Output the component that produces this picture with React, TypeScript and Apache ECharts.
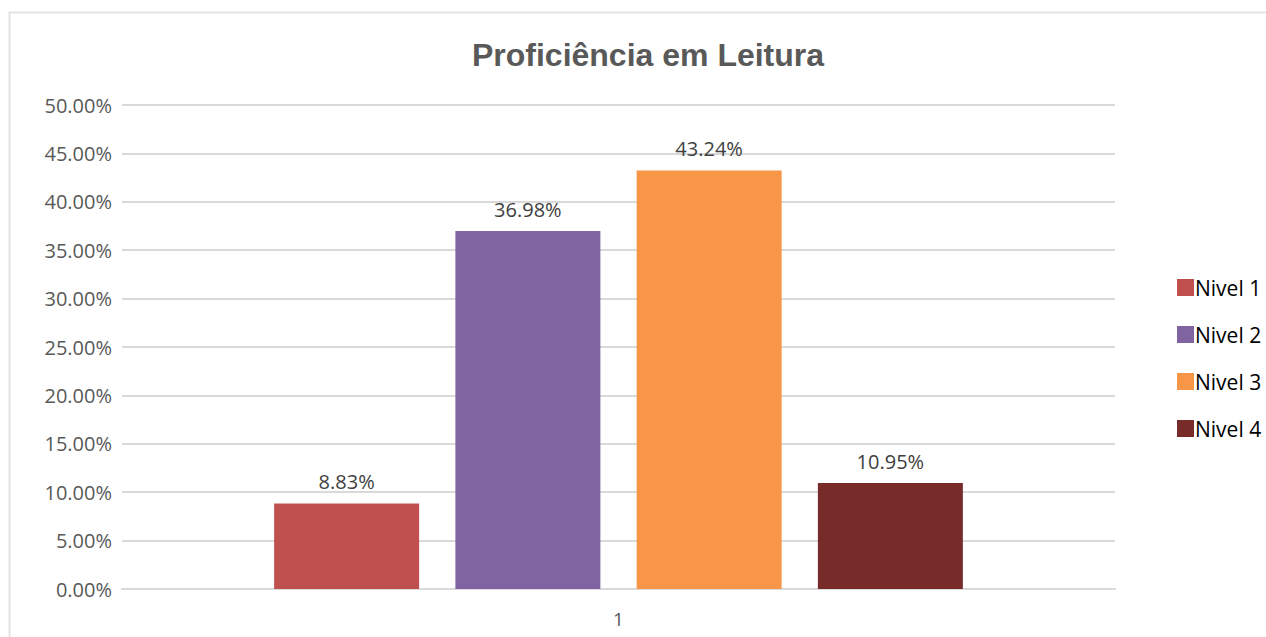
import React, { useEffect, useRef } from "react";
import * as echarts from "echarts";

const categories = ["1"];
const seriesNames = ["Nivel 1", "Nivel 2", "Nivel 3", "Nivel 4"];
const seriesValues = [8.83, 36.98, 43.24, 10.95];
const seriesColors = ["#C0504D", "#8064A2", "#F79646", "#772C2A"];

export default function App() {
  const ref = useRef<HTMLDivElement>(null);
  useEffect(() => {
    const chart = echarts.init(ref.current!, null, { renderer: "svg" });
    chart.setOption({
      animation: false,
      backgroundColor: "#ffffff",
      title: {
        text: "Proficiência em Leitura",
        left: 643,
        textAlign: "center",
        top: 34,
        textStyle: {
          fontFamily: "Liberation Sans, Arial, sans-serif",
          fontSize: 32,
          fontWeight: "bold",
          color: "#595959",
        },
      },
      graphic: [
        {
          type: "rect",
          shape: { x: 9.5, y: 12.5, width: 1270, height: 640 },
          style: { fill: "none", stroke: "#e3e3e3", lineWidth: 2 },
          silent: true,
        },
      ],
      legend: {
        orient: "vertical",
        left: 1172,
        top: 272,
        itemWidth: 17,
        itemHeight: 17,
        itemGap: 26,
        icon: "rect",
        textStyle: {
          fontFamily: "Open Sans, sans-serif",
          fontSize: 21,
          color: "#000000",
          padding: [0, 0, 14, -4],
        },
        data: seriesNames,
      },
      grid: { left: 122, right: 151, top: 105, bottom: 48 },
      xAxis: {
        type: "category",
        data: categories,
        axisLine: { lineStyle: { color: "#d9d9d9", width: 2 } },
        axisTick: { show: false },
        axisLabel: {
          fontFamily: "Open Sans, sans-serif",
          fontSize: 19,
          color: "#595959",
          margin: 20,
        },
      },
      yAxis: {
        type: "value",
        min: 0,
        max: 50,
        interval: 5,
        axisLine: { show: false },
        axisTick: { show: false },
        splitLine: { lineStyle: { color: "#d9d9d9", width: 2 } },
        axisLabel: {
          formatter: (v: number) => v.toFixed(2) + "%",
          fontFamily: "Open Sans, sans-serif",
          fontSize: 20,
          color: "#595959",
          margin: 10,
        },
      },
      series: seriesNames.map((name, i) => ({
        name,
        type: "bar",
        data: [seriesValues[i]],
        barWidth: 145,
        barGap: "25%",
        barCategoryGap: "30%",
        itemStyle: { color: seriesColors[i] },
        label: {
          show: true,
          position: "top",
          distance: 12,
          formatter: (p: any) => p.value.toFixed(2) + "%",
          fontFamily: "Open Sans, sans-serif",
          fontSize: 20,
          color: "#404040",
        },
      })),
    });
    return () => chart.dispose();
  }, []);
  return <div ref={ref} style={{ width: 1266, height: 637, position: "absolute", left: 0, top: 0 }} />;
}
